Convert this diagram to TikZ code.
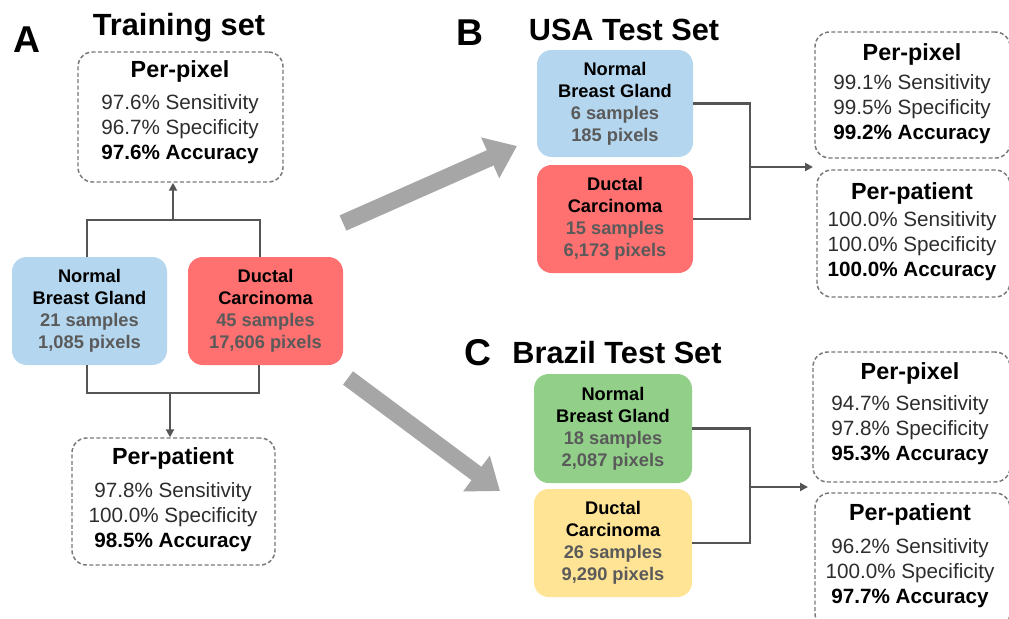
\documentclass[tikz,border=0pt]{standalone}
\usepackage{fontspec}
\setmainfont{Liberation Sans}
\usetikzlibrary{arrows.meta,fit}
\definecolor{cblue}{RGB}{180,214,238}
\definecolor{cred}{RGB}{255,112,112}
\definecolor{cgreen}{RGB}{146,208,138}
\definecolor{cyellow}{RGB}{255,228,150}
\definecolor{lgray}{RGB}{85,85,85}
\definecolor{subgray}{RGB}{90,90,90}
\definecolor{dgray}{RGB}{120,120,120}
\definecolor{agray}{RGB}{166,166,166}
\definecolor{tgray}{RGB}{45,45,45}
\tikzset{
  dbox/.style={draw=dgray, line width=1.1pt, dash pattern=on 3pt off 1.8pt, rounded corners=11pt, inner sep=0pt},
  cbox/.style={rounded corners=11pt, inner sep=0pt},
  lbl/.style={align=center, font=\fontsize{13.7}{16.5}\selectfont\bfseries, inner sep=0pt},
  stathead/.style={font=\fontsize{17.5}{20}\selectfont\bfseries, inner sep=0pt},
  statlines/.style={align=center, font=\fontsize{15.5}{18.75}\selectfont, text=tgray, inner sep=0pt},
  panel/.style={font=\fontsize{28}{30}\selectfont\bfseries, inner sep=0pt},
  ptitle/.style={font=\fontsize{23}{26}\selectfont\bfseries, inner sep=0pt},
  conn/.style={draw=lgray, line width=1.6pt},
  connarrow/.style={draw=lgray, line width=1.6pt, -{Triangle[length=6pt,width=6pt]}},
  bigarrow/.style={draw=agray, line width=12.5pt, -{Triangle[length=22pt,width=32pt]}},
}
\newcommand{\sub}[1]{\textcolor{subgray}{#1}}
\newcommand{\stats}[3]{#1 Sensitivity\\#2 Specificity\\\textcolor{black}{\bfseries #3 Accuracy}}
\begin{document}
\begin{tikzpicture}[x=0.75pt,y=-0.75pt]
\useasboundingbox (0,0) rectangle (1009,618);
\fill[white] (0,0) rectangle (1009,618);

% ---------- Panel A ----------
\node[panel] (letA) at (27,40) {A};
\node[ptitle] (titA) at (179,28) {Training set};

\node[dbox, fit={(78,52) (283,182)}] (ppA) {};
\node[stathead] (ppAh) at (180,71) {Per-pixel};
\node[statlines] (ppAl) at (180,129) {\stats{97.6\%}{96.7\%}{97.6\%}};

\node[cbox, fill=cblue, fit={(12,257) (167,365)}] (blueA) {};
\node[lbl] (blueAt) at (blueA.center) {Normal\\Breast Gland\\\sub{21 samples}\\\sub{1,085 pixels}};
\node[cbox, fill=cred, fit={(188,257) (343,365)}] (redA) {};
\node[lbl] (redAt) at (redA.center) {Ductal\\Carcinoma\\\sub{45 samples}\\\sub{17,606 pixels}};

\node[dbox, fit={(72,438) (275,565)}] (patA) {};
\node[stathead] (patAh) at (173,458) {Per-patient};
\node[statlines] (patAl) at (173,517) {\stats{97.8\%}{100.0\%}{98.5\%}};

\coordinate (jA) at (173,220);
\coordinate (kA) at (170,393);
\draw[conn] ([xshift=-2pt]blueA.north) |- (jA) -| ([xshift=-4pt]redA.north);
\draw[connarrow] (jA) -- (ppA.south -| jA);
\draw[conn] ([xshift=-2pt]blueA.south) |- (kA) -| ([xshift=-5pt]redA.south);
\draw[connarrow] (kA) -- (patA.north -| kA);

% ---------- big arrows ----------
\coordinate (a1s) at (343,223);
\coordinate (a1e) at (517,146);
\coordinate (a2s) at (348,378);
\coordinate (a2e) at (500,491);
\draw[bigarrow] (a1s) -- (a1e);
\draw[bigarrow] (a2s) -- (a2e);

% ---------- Panel B ----------
\node[panel] (letB) at (470,33) {B};
\node[ptitle] (titB) at (624,30) {USA Test Set};

\node[cbox, fill=cblue, fit={(537,50) (693,157)}] (blueB) {};
\node[lbl] (blueBt) at (blueB.center) {Normal\\Breast Gland\\\sub{6 samples}\\\sub{185 pixels}};
\node[cbox, fill=cred, fit={(537,165) (693,273)}] (redB) {};
\node[lbl] (redBt) at (redB.center) {Ductal\\Carcinoma\\\sub{15 samples}\\\sub{6,173 pixels}};

\node[dbox, fit={(815,32) (1010,158)}] (ppB) {};
\node[stathead] (ppBh) at (912,54) {Per-pixel};
\node[statlines] (ppBl) at (912,109) {\stats{99.1\%}{99.5\%}{99.2\%}};
\node[dbox, fit={(817,170) (1010,297)}] (patB) {};
\node[stathead] (patBh) at (912,193) {Per-patient};
\node[statlines] (patBl) at (912,246) {\stats{100.0\%}{100.0\%}{100.0\%}};

\coordinate (jB) at (750,167);
\coordinate (tB) at (813,167);
\draw[conn] (blueB.east) -| (jB) |- (redB.east);
\draw[connarrow] (jB) -- (tB);

% ---------- Panel C ----------
\node[panel] (letC) at (478,353) {C};
\node[ptitle] (titC) at (617,353) {Brazil Test Set};

\node[cbox, fill=cgreen, fit={(534,374) (692,483)}] (greenC) {};
\node[lbl] (greenCt) at (greenC.center) {Normal\\Breast Gland\\\sub{18 samples}\\\sub{2,087 pixels}};
\node[cbox, fill=cyellow, fit={(534,489) (692,597)}] (yelC) {};
\node[lbl] (yelCt) at (yelC.center) {Ductal\\Carcinoma\\\sub{26 samples}\\\sub{9,290 pixels}};

\node[dbox, fit={(813,352) (1010,482)}] (ppC) {};
\node[stathead] (ppCh) at (910,373) {Per-pixel};
\node[statlines] (ppCl) at (910,430) {\stats{94.7\%}{97.8\%}{95.3\%}};
\node[dbox, fit={(815,493) (1010,628)}] (patC) {};
\node[stathead] (patCh) at (910,514) {Per-patient};
\node[statlines] (patCl) at (910,573) {\stats{96.2\%}{100.0\%}{97.7\%}};

\coordinate (jC) at (750,487);
\coordinate (tC) at (808,487);
\draw[conn] (greenC.east) -| (jC) |- (yelC.east);
\draw[connarrow] (jC) -- (tC);
\end{tikzpicture}
\end{document}
